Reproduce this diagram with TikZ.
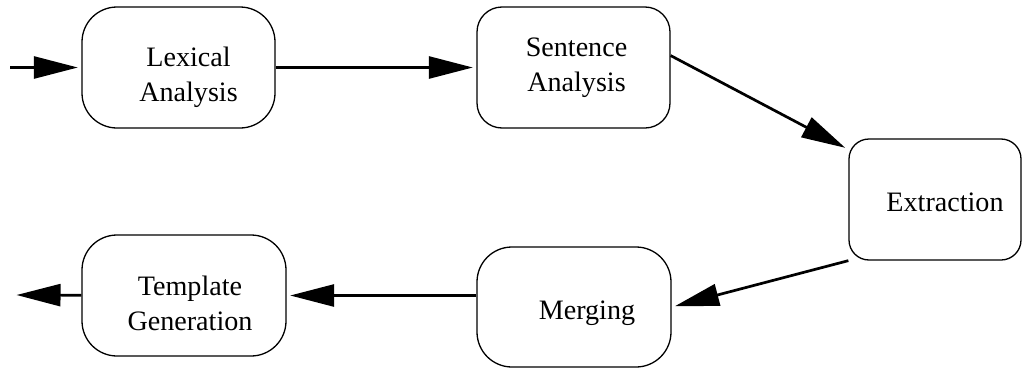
\documentclass[tikz,border=0pt]{standalone}
\usepackage{fontspec}
\setmainfont{Liberation Serif}
\usetikzlibrary{arrows.meta}

\begin{document}
\begin{tikzpicture}[font=\fontsize{8}{10}\selectfont]
\tikzstyle{box}=[draw,line width=0.37pt,minimum width=1.93cm,minimum height=1.21cm,inner sep=0pt]
\tikzstyle{lbl}=[align=center,inner sep=0pt]
\tikzstyle{op}=[line width=0.77pt,-{Triangle[length=0.44cm,width=0.22cm]},shorten >=1pt]
\useasboundingbox (0,0) rectangle (10.22,3.69);
\coordinate (0) at (0.1,3.015);
\coordinate (6) at (0.13,0.74);
\node (1) at (1.785,3.015) [box,rounded corners=0.35cm,label={[lbl,xshift=0.1cm,yshift=-0.1cm]center:Lexical\\Analysis}]{};
\node (2) at (5.735,3.015) [box,rounded corners=0.25cm,label={[lbl,xshift=0.03cm]center:Sentence\\Analysis}]{};
\node (3) at (9.35,1.695) [box,rounded corners=0.2cm,minimum width=1.72cm,label={[lbl,xshift=0.1cm,yshift=-0.03cm]center:Extraction}]{};
\node (4) at (5.74,0.62) [box,rounded corners=0.35cm,minimum width=1.94cm,minimum height=1.2cm,label={[lbl,xshift=0.13cm,yshift=-0.06cm]center:Merging}]{};
\node (5) at (1.84,0.735) [box,rounded corners=0.35cm,minimum width=2.04cm,label={[lbl,xshift=0.06cm,yshift=-0.08cm]center:Template\\Generation}]{};

\draw[op] (0) -- (1);
\draw[op] (1) -- (2);
\draw[op] (2.7) -- (3.150);
\draw[op] (3.south west) -- (4.east);
\draw[op] (4.west |- 5) -- (5.east);
\draw[op] (5) -- (6);
\end{tikzpicture}
\end{document}
